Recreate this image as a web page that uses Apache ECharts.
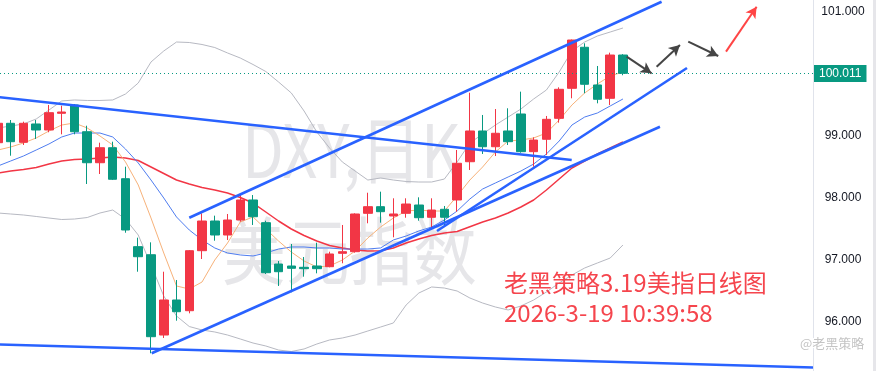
<!DOCTYPE html>
<html><head><meta charset="utf-8">
<script src="https://cdn.jsdelivr.net/npm/echarts@6/dist/echarts.min.js"></script>
<style>html,body{margin:0;padding:0;background:#fff}#c{width:876px;height:371px}</style>
</head><body><div id="c"></div>
<script>
// ---- data ----
const opens  = [98.892,99.205,98.898,99.194,99.097,99.366,99.500,99.069,98.569,98.811,98.311,97.215,97.085,95.790,96.355,96.182,97.150,97.629,97.403,97.645,97.968,97.602,96.935,96.903,96.882,96.903,96.892,97.108,97.134,97.753,97.860,97.710,97.753,97.887,97.689,97.818,97.968,98.585,99.081,98.827,99.081,99.355,98.747,98.947,99.285,99.769,100.431,99.823,99.608,100.306];
const closes = [99.205,98.908,99.205,99.097,99.376,99.387,99.069,98.569,98.811,98.302,97.484,97.053,95.763,96.355,96.166,97.150,97.629,97.403,97.645,97.968,97.698,96.795,96.811,96.866,96.860,96.860,97.097,97.134,97.742,97.860,97.779,97.742,97.903,97.682,97.806,97.689,98.560,99.081,98.827,99.044,98.908,98.747,98.935,99.269,99.753,100.548,99.834,99.592,100.306,100.011];
const lows   = [98.806,98.682,98.855,98.952,99.060,99.027,99.027,98.226,98.387,98.290,97.440,96.811,95.495,95.742,96.021,96.140,97.016,97.311,97.323,97.618,97.565,96.774,96.581,96.479,96.731,96.785,96.882,96.947,97.118,97.592,97.602,97.366,97.682,97.634,97.495,97.565,97.779,98.452,98.710,98.677,98.855,98.731,98.505,98.694,99.215,99.608,99.689,99.527,99.500,99.980];
const highs  = [99.274,99.258,99.231,99.258,99.500,99.489,99.516,99.166,98.892,98.908,98.505,97.360,97.285,96.811,96.677,97.161,97.753,97.715,97.742,98.048,98.048,97.634,96.984,97.258,97.048,97.279,97.134,97.565,97.753,98.085,98.102,97.995,97.995,98.011,97.995,97.871,98.774,99.698,99.339,99.435,99.447,99.715,98.979,99.323,99.785,100.556,100.495,100.129,100.344,100.320];
const ma5    = [98.774,98.823,98.887,98.968,99.081,99.177,99.210,99.129,99.000,98.855,98.581,98.210,97.677,97.113,96.581,96.532,96.645,97.000,97.274,97.613,97.694,97.500,97.306,97.129,96.984,96.887,96.903,97.000,97.145,97.355,97.532,97.677,97.790,97.806,97.790,97.790,98.032,98.290,98.500,98.742,98.919,98.935,98.968,99.048,99.258,99.500,99.694,99.839,99.968,100.032];
const ma10   = [98.516,98.597,98.677,98.774,98.871,98.984,99.048,99.048,99.048,98.984,98.790,98.565,98.290,98.000,97.694,97.484,97.323,97.194,97.113,97.081,97.065,97.113,97.177,97.210,97.210,97.194,97.194,97.177,97.177,97.177,97.194,97.323,97.387,97.468,97.532,97.645,97.790,97.984,98.145,98.242,98.339,98.435,98.548,98.710,98.919,99.177,99.306,99.371,99.484,99.597];
const ma20   = [98.403,98.435,98.460,98.492,98.548,98.597,98.621,98.629,98.645,98.661,98.645,98.605,98.500,98.395,98.290,98.226,98.169,98.129,98.081,98.008,97.919,97.774,97.629,97.500,97.395,97.306,97.234,97.194,97.161,97.145,97.150,97.194,97.274,97.339,97.395,97.435,97.460,97.537,97.613,97.677,97.758,97.855,97.968,98.129,98.306,98.484,98.597,98.710,98.806,98.903];
const bollUpper = [99.129,99.161,99.194,99.274,99.419,99.565,99.581,99.573,99.573,99.581,99.677,99.855,100.194,100.371,100.516,100.508,100.476,100.427,100.339,100.258,100.153,100.040,99.871,99.694,99.403,99.065,98.806,98.581,98.435,98.290,98.323,98.290,98.266,98.258,98.258,98.306,98.581,98.887,99.032,99.177,99.306,99.435,99.597,99.742,100.032,100.371,100.516,100.613,100.677,100.742];
const bollLower = [97.758,97.742,97.726,97.702,97.677,97.653,97.661,97.685,97.758,97.806,97.661,97.403,96.919,96.419,96.097,95.927,95.871,95.839,95.790,95.726,95.661,95.613,95.548,95.524,95.565,95.645,95.710,95.742,95.790,95.855,95.919,95.984,96.274,96.468,96.565,96.548,96.500,96.387,96.306,96.242,96.194,96.258,96.355,96.484,96.629,96.758,96.871,96.952,97.032,97.242];
const yTickLabels = [96, 97, 98, 99, 100, 101];
const lastPrice = 100.011;
// trend lines drawn on the chart: [[x1, y1], [x2, y2]] in (bar index, price)
const trendLines = [
  [[-1.406, 99.660], [44.98, 98.613]],
  [[-1.406, 95.647], [63.90, 95.266]],
  [[12.054, 95.495], [51.90, 99.150]],
  [[34.42, 97.468], [54.02, 100.097]],
  [[15.0, 97.682], [52.03, 101.166]]
];
const grayArrows = [
  [[49.29, 100.279], [51.25, 100.011]],
  [[51.64, 100.118], [53.47, 100.468]],
  [[54.12, 100.521], [56.47, 100.290]]
];
const redArrows = [
  [[57.08, 100.360], [59.48, 101.085]]
];

// ---- build ----
const idx = opens.map((_, i) => i);
const candleData = idx.map(i => [i, opens[i], closes[i], lows[i], highs[i]]);
const pts = arr => arr.map((v, i) => [i, v]);

function lineSeries(arr, color, width) {
  return { type: 'line', data: pts(arr), showSymbol: false, symbol: 'none', silent: true,
    lineStyle: { color, width }, z: 3, clip: true };
}

const series = [
  lineSeries(bollUpper, '#b7b9c2', 1),
  lineSeries(bollLower, '#b7b9c2', 1),
  lineSeries(ma20, '#f23645', 1.5),
  lineSeries(ma10, '#4f7df0', 1),
  lineSeries(ma5, '#f7b27a', 1),
  { type: 'candlestick', data: candleData, encode: { x: 0, y: [1, 2, 3, 4] }, barWidth: 9, z: 4,
    itemStyle: { color: '#f23645', color0: '#089981', borderColor: '#f23645', borderColor0: '#089981', borderWidth: 1 } }
];
trendLines.forEach(tl => series.push({ type: 'line', data: tl, showSymbol: false, symbol: 'none', silent: true, clip: true, z: 5,
  lineStyle: { color: '#2962ff', width: 2.6 } }));
series.push({ type: 'line', data: [], clip: false, silent: true, z: 6,
  markLine: { silent: true, symbol: ['none', 'none'], animation: false,
    lineStyle: { type: [1, 3], color: '#089981', width: 1.2 },
    label: { show: true, position: 'end', distance: 1, formatter: lastPrice.toFixed(3), color: '#fff', backgroundColor: '#089981',
      padding: [3, 5, 2, 5], fontSize: 12, fontFamily: 'Arial' },
    data: [{ yAxis: lastPrice }] } });
series.push({ type: 'line', data: [], clip: false, silent: true, z: 7,
  markLine: { silent: true, symbol: ['none', 'arrow'], symbolSize: [9, 11], animation: false,
    lineStyle: { type: 'solid', color: '#454545', width: 2 }, label: { show: false },
    data: grayArrows.map(a => [{ coord: a[0] }, { coord: a[1] }]) } });
series.push({ type: 'line', data: [], clip: false, silent: true, z: 7,
  markLine: { silent: true, symbol: ['none', 'arrow'], symbolSize: [9, 11], animation: false,
    lineStyle: { type: 'solid', color: '#ff4545', width: 2 }, label: { show: false },
    data: redArrows.map(a => [{ coord: a[0] }, { coord: a[1] }]) } });

const chart = echarts.init(document.getElementById('c'), null, { renderer: 'canvas' });
chart.setOption({
  animation: false,
  backgroundColor: '#ffffff',
  grid: { left: 0, right: 63, top: 0, bottom: 0, containLabel: false },
  xAxis: { type: 'value', min: 0.1615, max: 63.9, show: false },
  yAxis: { type: 'value', position: 'right', min: 95.2097, max: 101.1935, scale: true,
    axisLine: { show: true, lineStyle: { color: '#e0e3eb', width: 1 } }, axisTick: { show: false }, splitLine: { show: false },
    axisLabel: { customValues: yTickLabels, formatter: v => v.toFixed(3), align: 'center', margin: 30, color: '#131722', fontSize: 12, fontFamily: 'Arial' } },
  graphic: [
    { type: 'text', x: 242, y: 150, scaleX: 0.82, z: -10, silent: true,
      style: { text: 'DXY,日K', fill: '#e6e6e9', fontSize: 74, fontFamily: 'Noto Sans CJK SC', verticalAlign: 'middle', align: 'left' } },
    { type: 'text', x: 222, y: 251, scaleX: 0.86, z: -10, silent: true,
      style: { text: '美元指数', fill: '#e6e6e9', fontSize: 74, fontFamily: 'Noto Sans CJK SC', verticalAlign: 'middle', align: 'left' } },
    { type: 'text', x: 504, y: 283, z: 100, silent: true,
      style: { text: '老黑策略3.19美指日线图', fill: '#f5454d', fontSize: 24, fontFamily: 'Noto Sans CJK SC', verticalAlign: 'middle', align: 'left' } },
    { type: 'text', x: 504, y: 313, z: 100, silent: true,
      style: { text: '2026-3-19 10:39:58', fill: '#f5454d', fontSize: 24, fontFamily: 'Noto Sans CJK SC', verticalAlign: 'middle', align: 'left' } },
    { type: 'text', x: 800, y: 343, z: 100, silent: true,
      style: { text: '@老黑策略', fill: '#c4c4c4', stroke: '#ffffff', lineWidth: 2, fontSize: 13, fontFamily: 'Noto Sans CJK SC', verticalAlign: 'middle', align: 'left' } },
    { type: 'rect', shape: { x: 873, y: 0, width: 3, height: 371 }, z: 100, silent: true, style: { fill: '#e6e6ea' } }
  ],
  series
});
</script></body></html>
